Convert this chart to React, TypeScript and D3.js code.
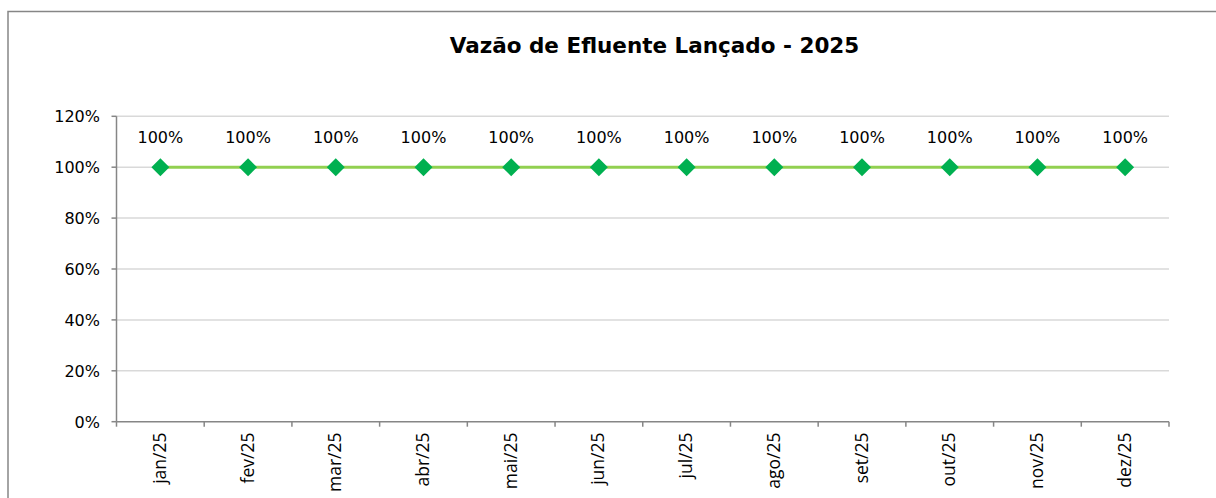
import React from "react";
import * as d3 from "d3";

const categories = ["jan/25","fev/25","mar/25","abr/25","mai/25","jun/25","jul/25","ago/25","set/25","out/25","nov/25","dez/25"];
const values = [1,1,1,1,1,1,1,1,1,1,1,1];
const yTicks = [0,0.2,0.4,0.6,0.8,1.0,1.2];
const title = "Vazão de Efluente Lançado - 2025";

export default function App() {
  const left = 116.5, right = 1169, top = 116.3, bottom = 421.7;
  const x = d3.scaleBand<string>().domain(categories).range([left, right]).padding(0);
  const y = d3.scaleLinear().domain([0, 1.2]).range([bottom, top]);
  const fmt = d3.format(".0%");
  const cx = (c: string) => (x(c) as number) + x.bandwidth() / 2;
  const line = d3.line<number>().x((_, i) => cx(categories[i])).y((d) => y(d));
  const diamond = d3.symbol().type(d3.symbolSquare).size(162);
  const edges = categories.map((c) => x(c) as number).concat([right]);
  const tickFont = "'DejaVu Sans', Verdana, sans-serif";
  return (
    <svg width={1216} height={498} style={{ position: "absolute", left: 0, top: 0 }}>
      <rect x={0} y={0} width={1216} height={498} fill="#fff" />
      <rect x={8} y={11.5} width={1400} height={700} fill="none" stroke="#868686" strokeWidth={1.5} />
      <text x={654.5} y={52.5} textAnchor="middle" fontFamily={tickFont} fontWeight="bold" fontSize={21.5} fill="#000">{title}</text>
      {yTicks.map((t) => (
        <g key={t}>
          {t > 0 && <line x1={left} x2={right} y1={y(t)} y2={y(t)} stroke="#d9d9d9" strokeWidth={1.5} />}
          <line x1={left - 5} x2={left} y1={y(t)} y2={y(t)} stroke="#868686" strokeWidth={1.5} />
          <text x={100} y={y(t) + 6} textAnchor="end" fontFamily={tickFont} fontSize={16} fill="#000">{fmt(t)}</text>
        </g>
      ))}
      <line x1={left} x2={left} y1={top} y2={bottom} stroke="#868686" strokeWidth={1.5} />
      <line x1={left} x2={right} y1={bottom} y2={bottom} stroke="#868686" strokeWidth={1.5} />
      {edges.map((e, i) => (
        <line key={i} x1={e} x2={e} y1={bottom} y2={bottom + 5} stroke="#868686" strokeWidth={1.5} />
      ))}
      {categories.map((c) => (
        <text key={c} transform={`translate(${cx(c) + 5.5},432.5) rotate(-90)`} textAnchor="end" fontFamily="'Open Sans', sans-serif" fontSize={17.5} fill="#000">{c}</text>
      ))}
      <path d={line(values) || ""} fill="none" stroke="#92D050" strokeWidth={3} />
      {values.map((v, i) => (
        <g key={i}>
          <path d={diamond() || ""} transform={`translate(${cx(categories[i])},${y(v)}) rotate(45)`} fill="#00B050" />
          <text x={cx(categories[i])} y={143} textAnchor="middle" fontFamily={tickFont} fontSize={16} fill="#000">{fmt(v)}</text>
        </g>
      ))}
    </svg>
  );
}
